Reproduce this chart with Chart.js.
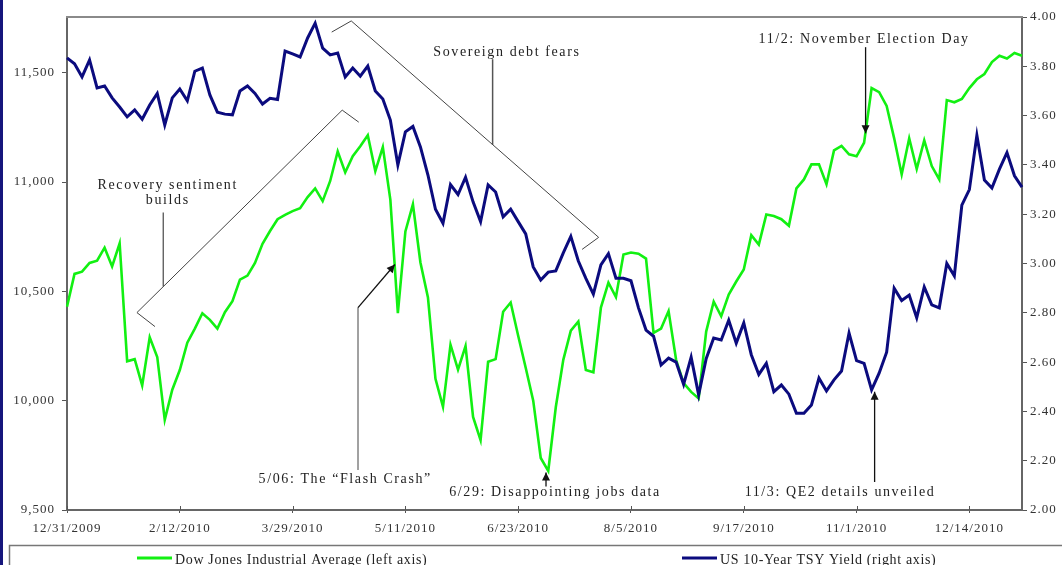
<!DOCTYPE html>
<html>
<head>
<meta charset="utf-8">
<script src="https://cdn.jsdelivr.net/npm/chart.js@4.4.1/dist/chart.umd.min.js"></script>
<style>
  html, body { margin: 0; padding: 0; background: #fff; }
  #wrap { width: 1062px; height: 565px; }
</style>
</head>
<body>
<div id="wrap"><canvas id="trendChart" width="1062" height="565"></canvas></div>
<script>
// every other trading day, 12/31/2009 .. 12/31/2010
const tickLabels = ['12/31/2009', '2/12/2010', '3/29/2010', '5/11/2010', '6/23/2010',
    '8/5/2010', '9/17/2010', '11/1/2010', '12/14/2010'];
const tickEvery = 15;

const dowValues = [
    10430, 10580, 10590, 10630, 10640, 10700, 10614, 10720, 10180, 10190,
    10070, 10290, 10200, 9912, 10050, 10140, 10265, 10330, 10400, 10370,
    10330, 10405, 10455, 10554, 10572, 10630, 10718, 10776, 10830, 10850,
    10867, 10880, 10931, 10971, 10913, 11005, 11140, 11044, 11118, 11164,
    11214, 11050, 11160, 10920, 10400, 10774, 10898, 10632, 10472, 10100,
    9972, 10256, 10142, 10250, 9926, 9820, 10178, 10190, 10407, 10449,
    10297, 10151, 10000, 9738, 9679, 9970, 10187, 10320, 10362, 10140,
    10130, 10426, 10540, 10474, 10669, 10678, 10672, 10650, 10310, 10330,
    10410, 10187, 10080, 10040, 10010, 10316, 10453, 10386, 10485, 10545,
    10600, 10757, 10714, 10852, 10845, 10830, 10800, 10971, 11012, 11081,
    11081, 10990, 11145, 11165, 11127, 11118, 11180, 11430, 11411, 11348,
    11200, 11035, 11200, 11060, 11191, 11073, 11012, 11375, 11365, 11380,
    11430, 11470, 11494, 11549, 11578, 11565, 11590, 11578
];

const tsyValues = [
    3.834, 3.81, 3.757, 3.826, 3.712, 3.72, 3.672, 3.635, 3.595, 3.623,
    3.585, 3.643, 3.69, 3.562, 3.672, 3.708, 3.66, 3.78, 3.793, 3.684,
    3.614, 3.606, 3.603, 3.70, 3.72, 3.69, 3.647, 3.67, 3.665, 3.862,
    3.85, 3.838, 3.915, 3.975, 3.874, 3.846, 3.854, 3.757, 3.793, 3.76,
    3.801, 3.70, 3.667, 3.582, 3.40, 3.534, 3.556, 3.473, 3.359, 3.22,
    3.163, 3.32, 3.28, 3.35, 3.25, 3.17, 3.319, 3.29, 3.189, 3.22,
    3.17, 3.12, 2.986, 2.933, 2.965, 2.97, 3.043, 3.11, 3.01, 2.94,
    2.876, 2.994, 3.04, 2.94, 2.94, 2.93, 2.82, 2.73, 2.705, 2.588,
    2.616, 2.60, 2.51, 2.62, 2.467, 2.614, 2.698, 2.69, 2.77, 2.677,
    2.759, 2.63, 2.55, 2.595, 2.48, 2.507, 2.47, 2.392, 2.392, 2.426,
    2.535, 2.483, 2.528, 2.564, 2.718, 2.606, 2.595, 2.487, 2.555, 2.64,
    2.90, 2.85, 2.872, 2.78, 2.905, 2.832, 2.82, 3.00, 2.95, 3.237,
    3.30, 3.52, 3.339, 3.306, 3.383, 3.45, 3.356, 3.31
];

const dowTicks = [9500, 10000, 10500, 11000, 11500];
const labels = dowValues.map((v, i) => i);

const SERIF = '"Liberation Serif", "Times New Roman", serif';
const GREEN = '#12f012';
const NAVY = '#0b0b7e';

// letter spacing for all canvas text (the original text is spread out)
const spacingPlugin = {
    id: 'spacing',
    beforeDraw(chart) {
        chart.ctx.letterSpacing = '1px';
    }
};

// annotations, anchored on index / left-axis values
const notesPlugin = {
    id: 'notes',
    afterDatasetsDraw(chart) {
        const ctx = chart.ctx;
        const xs = chart.scales.x;
        const ys = chart.scales.yDow;
        const P = (i, v) => [xs.getPixelForValue(i), ys.getPixelForValue(v)];

        ctx.save();
        ctx.font = '14px ' + SERIF;
        ctx.letterSpacing = '1.6px';
        ctx.fillStyle = '#222';
        ctx.textAlign = 'center';
        ctx.textBaseline = 'middle';

        const text = (s, i, v) => {
            const p = P(i, v);
            ctx.fillText(s, p[0], p[1]);
        };
        const path = (pts, color, w) => {
            ctx.beginPath();
            pts.forEach((pt, k) => {
                const p = P(pt[0], pt[1]);
                if (k === 0) ctx.moveTo(p[0], p[1]);
                else ctx.lineTo(p[0], p[1]);
            });
            ctx.strokeStyle = color;
            ctx.lineWidth = w;
            ctx.stroke();
        };
        const arrow = (pts) => {
            path(pts, '#111', 1.3);
            const a = P(pts[pts.length - 2][0], pts[pts.length - 2][1]);
            const b = P(pts[pts.length - 1][0], pts[pts.length - 1][1]);
            const ang = Math.atan2(b[1] - a[1], b[0] - a[0]);
            const len = 8, half = 4;
            ctx.beginPath();
            ctx.moveTo(b[0], b[1]);
            ctx.lineTo(b[0] - len * Math.cos(ang) + half * Math.sin(ang), b[1] - len * Math.sin(ang) - half * Math.cos(ang));
            ctx.lineTo(b[0] - len * Math.cos(ang) - half * Math.sin(ang), b[1] - len * Math.sin(ang) + half * Math.cos(ang));
            ctx.closePath();
            ctx.fillStyle = '#111';
            ctx.fill();
            ctx.fillStyle = '#222';
        };

        // Recovery sentiment builds
        text('Recovery sentiment', 13.4, 10985);
        text('builds', 13.4, 10916);
        path([[12.8, 10861], [12.8, 10522]], '#555', 1.3);
        path([[11.7, 10339], [9.3, 10403], [36.6, 11329], [38.8, 11274]], '#444', 1);

        // Sovereign debt fears
        text('Sovereign debt fears', 58.5, 11594);
        path([[56.6, 11562], [56.6, 11170]], '#555', 1.5);
        path([[35.2, 11686], [37.8, 11737], [70.7, 10747], [68.5, 10692]], '#444', 1);

        // Flash crash
        text('5/06: The \u201cFlash Crash\u201d', 37.0, 9642);
        path([[38.7, 9683], [38.7, 10426]], '#444', 1);
        arrow([[38.7, 10426], [43.6, 10623]]);

        // jobs data
        text('6/29: Disappointing jobs data', 64.9, 9582);
        arrow([[63.7, 9608], [63.7, 9672]]);

        // election day
        text('11/2: November Election Day', 106.0, 11654);
        arrow([[106.2, 11617], [106.2, 11223]]);

        // QE2
        text('11/3: QE2 details unveiled', 102.8, 9582);
        arrow([[107.4, 9628], [107.4, 10041]]);

        ctx.restore();
    }
};

// frame, small inner ticks, slide strip and the legend box
const framePlugin = {
    id: 'frame',
    afterDraw(chart) {
        const ctx = chart.ctx;
        const area = chart.chartArea;
        const xs = chart.scales.x;
        ctx.save();

        ctx.strokeStyle = '#8a8a8a';
        ctx.lineWidth = 2;
        ctx.beginPath();
        ctx.moveTo(area.left - 1, area.top);
        ctx.lineTo(area.right + 1, area.top);
        ctx.stroke();

        ctx.strokeStyle = '#555';
        ctx.lineWidth = 1;
        xs.ticks.forEach(t => {
            const px = Math.round(xs.getPixelForValue(t.value)) + 0.5;
            ctx.beginPath();
            ctx.moveTo(px, area.bottom - 4);
            ctx.lineTo(px, area.bottom);
            ctx.stroke();
        });

        ctx.fillStyle = '#16167c';
        ctx.fillRect(0, 0, 3, chart.height);

        // legend
        ctx.strokeStyle = '#777';
        ctx.lineWidth = 1.5;
        ctx.strokeRect(9.5, 545.5, 1100, 60);
        const legendX = [137, 682];
        ctx.font = '14px ' + SERIF;
        ctx.letterSpacing = '0.65px';
        ctx.textAlign = 'left';
        ctx.textBaseline = 'alphabetic';
        chart.data.datasets.forEach((ds, k) => {
            ctx.strokeStyle = ds.borderColor;
            ctx.lineWidth = 3;
            ctx.beginPath();
            ctx.moveTo(legendX[k], 558);
            ctx.lineTo(legendX[k] + 35, 558);
            ctx.stroke();
            ctx.fillStyle = '#222';
            ctx.fillText(ds.label, legendX[k] + 38, 564);
        });
        ctx.restore();
    }
};

const ctx = document.getElementById('trendChart').getContext('2d');

new Chart(ctx, {
    type: 'line',
    data: {
        labels: labels,
        datasets: [{
            label: 'Dow Jones Industrial Average (left axis)',
            data: dowValues,
            yAxisID: 'yDow',
            borderColor: GREEN,
            borderWidth: 2.6,
            pointRadius: 0,
            tension: 0,
            order: 1
        }, {
            label: 'US 10-Year TSY Yield (right axis)',
            data: tsyValues,
            yAxisID: 'yTsy',
            borderColor: NAVY,
            borderWidth: 3,
            pointRadius: 0,
            tension: 0,
            order: 0
        }]
    },
    options: {
        responsive: false,
        devicePixelRatio: 1,
        animation: false,
        layout: { padding: { top: 17, left: 0, right: 0, bottom: 0 } },
        plugins: {
            legend: { display: false },
            tooltip: { enabled: false }
        },
        scales: {
            x: {
                type: 'category',
                offset: false,
                afterBuildTicks: (scale) => {
                    scale.ticks = scale.ticks.filter(t => t.value % tickEvery === 0);
                },
                afterFit: (scale) => { scale.height = 55; },
                grid: { drawOnChartArea: false, tickLength: 3, color: '#555' },
                border: { color: '#666', width: 2 },
                ticks: {
                    autoSkip: false,
                    maxRotation: 0,
                    padding: 8,
                    color: '#333',
                    font: { family: SERIF, size: 13 },
                    callback: (value) => tickLabels[value / tickEvery]
                }
            },
            yDow: {
                type: 'linear',
                position: 'left',
                min: 9500,
                max: 11755,
                afterBuildTicks: (scale) => {
                    scale.ticks = dowTicks.map(v => ({ value: v }));
                },
                afterFit: (scale) => { scale.width = 67; },
                grid: { drawOnChartArea: false, tickLength: 5, color: '#555' },
                border: { color: '#666', width: 2 },
                ticks: {
                    padding: 7,
                    color: '#333',
                    font: { family: SERIF, size: 13 },
                    callback: (v) => v.toLocaleString('en-US')
                }
            },
            yTsy: {
                type: 'linear',
                position: 'right',
                min: 2,
                max: 4,
                afterFit: (scale) => { scale.width = 40; },
                grid: { drawOnChartArea: false, tickLength: 5, color: '#555' },
                border: { color: '#666', width: 2 },
                ticks: {
                    stepSize: 0.2,
                    padding: 3,
                    color: '#333',
                    font: { family: SERIF, size: 13 },
                    callback: (v) => v.toFixed(2)
                }
            }
        }
    },
    plugins: [spacingPlugin, notesPlugin, framePlugin]
});
</script>
</body>
</html>
